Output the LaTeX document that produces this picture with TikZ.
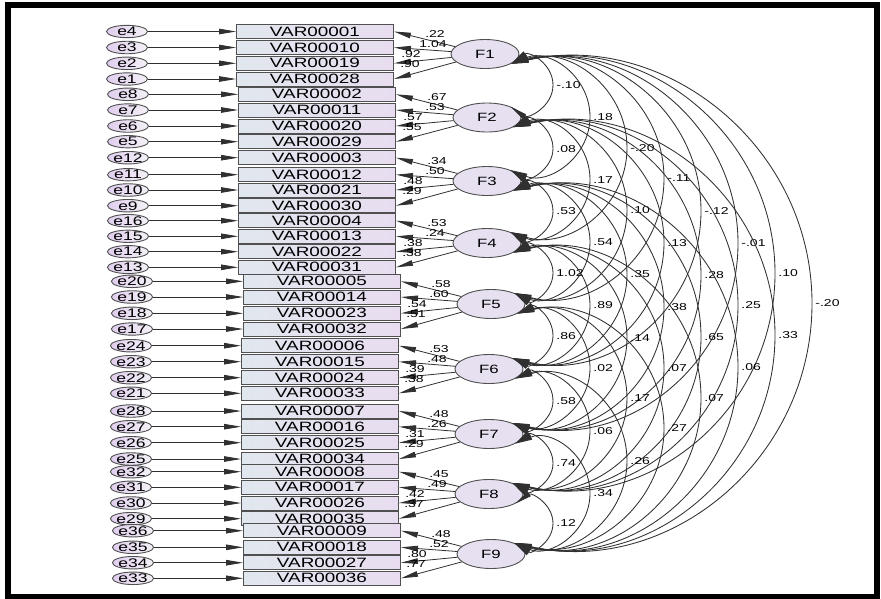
\documentclass[tikz,border=0pt]{standalone}
\usepackage{fontspec}
\setmainfont{Liberation Sans}
\usepackage{graphicx}
\usetikzlibrary{arrows.meta,calc,shapes.geometric}
\newcommand{\sx}[1]{\scalebox{1.4}[1]{#1}}
\definecolor{boxL}{HTML}{E1E7EE}
\definecolor{boxR}{HTML}{E8DDF0}
\definecolor{errL}{HTML}{E0CEEE}
\definecolor{errR}{HTML}{F4F1F7}
\definecolor{latF}{HTML}{E6E0F1}
\definecolor{edgeC}{HTML}{505050}
\definecolor{lineC}{HTML}{303030}
\begin{document}
\begin{tikzpicture}[x=1pt,y=-1pt,
  obs/.style={rectangle, draw=edgeC, line width=0.9pt, left color=boxL, right color=boxR,
    minimum width=157pt, minimum height=14pt, inner sep=0pt, font=\fontsize{13.5}{14}\selectfont},
  err/.style={ellipse, draw=edgeC, line width=0.9pt, left color=errL, right color=errR,
    minimum width=41pt, minimum height=12pt, inner sep=0pt, font=\fontsize{12.5}{13}\selectfont},
  lat/.style={ellipse, draw=edgeC, line width=0.9pt, fill=latF,
    minimum width=68pt, minimum height=29pt, inner sep=0pt, font=\fontsize{12}{13}\selectfont},
  arr/.style={-{Triangle[length=17pt,width=5.5pt]}, line width=0.8pt, draw=lineC},
  cov/.style={{Triangle[length=17pt,width=5.5pt]}-{Triangle[length=17pt,width=5.5pt]}, line width=0.85pt, draw=lineC},
  num/.style={font=\fontsize{10}{10}\selectfont, inner sep=0pt}]
\useasboundingbox (0,0) rectangle (881,598);
\fill[white] (0,0) rectangle (881,598);
\draw[line width=6pt] (8,4.5) rectangle (877,597);

\foreach \g/\bx/\ex/\fx/\fy/\ya/\yb/\yc/\yd/\la/\lb/\lc/\ld in {
 1/315/127/485/54/31.5/47.5/63.3/79/.22/1.04/.92/.90,
 2/317/128/487/117.5/94.3/110/126/141.7/.67/.53/.57/.55,
 3/317/128/487/181/157.7/174.7/190/205.7/.34/.50/.48/.29,
 4/317/128/487/243/220.7/236.3/251.7/267.3/.53/.24/.38/.38,
 5/322/132/491/304/281.3/297/313.3/329/.58/.60/.54/.51,
 6/320/131/489/369/345.7/361.7/377.7/393.3/.53/.48/.39/.38,
 7/320/131/489/434/411/426.7/442.7/459/.48/.26/.31/.29,
 8/320/131/489/494/471.7/487.3/503/518.7/.45/.49/.42/.37,
 9/322/133/491/554/530.7/547.3/562.7/578.3/.48/.52/.80/.77}{
  \pgfmathtruncatemacro\vB{\g+9}
  \pgfmathtruncatemacro\vC{\g+18}
  \pgfmathtruncatemacro\vD{\g+27}
  \pgfmathtruncatemacro\eA{4*\g}
  \pgfmathtruncatemacro\eB{4*\g-1}
  \pgfmathtruncatemacro\eC{4*\g-2}
  \pgfmathtruncatemacro\eD{4*\g-3}
  \node[lat] (F\g) at (\fx,\fy) {\sx{F\g}};
  \node[obs] (b\g1) at (\bx,\ya) {\sx{VAR0000\g}};
  \node[obs] (b\g2) at (\bx,\yb) {\sx{VAR000\vB}};
  \node[obs] (b\g3) at (\bx,\yc) {\sx{VAR000\vC}};
  \node[obs] (b\g4) at (\bx,\yd) {\sx{VAR000\vD}};
  \node[err] (e\eA) at (\ex,\ya) {\sx{e\eA}};
  \node[err] (e\eB) at (\ex,\yb) {\sx{e\eB}};
  \node[err] (e\eC) at (\ex,\yc) {\sx{e\eC}};
  \node[err] (e\eD) at (\ex,\yd) {\sx{e\eD}};
  \draw[arr] (e\eA) -- (b\g1);
  \draw[arr] (e\eB) -- (b\g2);
  \draw[arr] (e\eC) -- (b\g3);
  \draw[arr] (e\eD) -- (b\g4);
  \draw[arr] (F\g) -- (b\g1.east);
  \draw[arr] (F\g) -- (b\g2.east);
  \draw[arr] (F\g) -- (b\g3.east);
  \draw[arr] (F\g) -- (b\g4.east);
  \node[num] at ([shift={(-50,-20)}]F\g.center) {\sx{\la}};
  \node[num] at ([shift={(-52,-10)}]F\g.center) {\sx{\lb}};
  \node[num] at ([shift={(-74,0)}]F\g.center) {\sx{\lc}};
  \node[num] at ([shift={(-75,10)}]F\g.center) {\sx{\ld}};
}

\foreach \i/\j/\lab in {
 1/2/-.10, 1/3/.18, 1/4/-.20, 1/5/-.11, 1/6/-.12, 1/7/-.01, 1/8/.10, 1/9/-.20,
 2/3/.08, 2/4/.17, 2/5/.10, 2/6/.13, 2/7/.28, 2/8/.25, 2/9/.33,
 3/4/.53, 3/5/.54, 3/6/.35, 3/7/.38, 3/8/.65, 3/9/.06,
 4/5/1.02, 4/6/.89, 4/7/.14, 4/8/.07, 4/9/.07,
 5/6/.86, 5/7/.02, 5/8/.17, 5/9/.27,
 6/7/.58, 6/8/.06, 6/9/.26,
 7/8/.74, 7/9/.34,
 8/9/.12}{
  \draw[cov] let \p1=(F\i.-20), \p2=(F\j.25),
      \n1={((\y1)-(\y2))/2},
      \n6={(516+37*(\j-\i))*1pt},
      \n2={\n6-((\x1)+(\x2))/2},
      \n3={2*atan(\n2/\n1)},
      \n4={4/3*tan(\n3/4)*\n1/sin(\n3)},
      \n5={((\y1)+(\y2))/2}
    in (\p1) .. controls ({\x1+\n4*sin(\n3)},{\y1-\n4*cos(\n3)}) and ({\n6+0pt},{\n5+\n4}) .. ({\n6+0pt},{\n5+0pt})
    node[num,anchor=west,xshift=3pt] {\sx{\lab}}
    .. controls ({\n6+0pt},{\n5-\n4}) and ({\x2+\n4*sin(\n3)},{\y2+\n4*cos(\n3)}) .. (\p2);
}
\end{tikzpicture}
\end{document}
